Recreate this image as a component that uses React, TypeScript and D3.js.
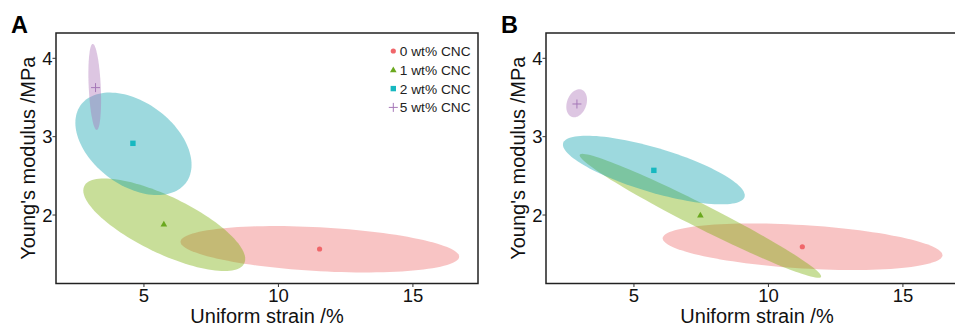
import * as d3 from 'd3'

// groups and colours
const groups = ['0 wt% CNC', '1 wt% CNC', '2 wt% CNC', '5 wt% CNC']
const pointColors = ['#F0666A', '#6AA81E', '#17B8C0', '#A678B8']
const fillColors = ['#EE6B6B', '#76AD00', '#0AA0AD', '#AA71B7']
const shapes = ['circle', 'triangle', 'square', 'plus']

// panel A: group means
const meanStrainA = [11.53, 5.74, 4.59, 3.2]
const meanModulusA = [1.566, 1.885, 2.915, 3.626]
// panel A: ellipses (centre, half ranges, correlation)
const ellStrainA = [11.54, 5.755, 4.61, 3.17]
const ellModulusA = [1.563, 1.876, 2.909, 3.635]
const ellStrainHalfA = [5.18, 3.01, 2.16, 0.236]
const ellModulusHalfA = [0.296, 0.591, 0.654, 0.549]
const ellCorrA = [-0.32, -0.74, -0.41, -0.31]

// panel B: group means
const meanStrainB = [11.26, 7.47, 5.74, 2.88]
const meanModulusB = [1.595, 2.0, 2.57, 3.417]
// panel B: ellipses
const ellStrainB = [11.27, 7.47, 5.74, 2.87]
const ellModulusB = [1.595, 1.99, 2.574, 3.426]
const ellStrainHalfB = [5.2, 4.49, 3.38, 0.385]
const ellModulusHalfB = [0.297, 0.791, 0.438, 0.179]
const ellCorrB = [-0.36, -0.977, -0.74, 0.25]

const xTicks = [5, 10, 15]
const yTicks = [2, 3, 4]
const xDomain: [number, number] = [1.73, 17.42]
const yDomain: [number, number] = [1.126, 4.323]

const FONT = '"Liberation Sans", Arial, Helvetica, sans-serif'
const W = 422
const H = 250.5

function Marker({ shape, cx, cy, color }: { shape: string; cx: number; cy: number; color: string }) {
  if (shape === 'circle') return <circle cx={cx} cy={cy} r={2.6} fill={color} />
  if (shape === 'triangle') {
    const s = 3.3
    return <path d={`M${cx},${cy - s}L${cx + s},${cy + s * 0.75}L${cx - s},${cy + s * 0.75}Z`} fill={color} />
  }
  if (shape === 'square') return <rect x={cx - 2.7} y={cy - 2.7} width={5.4} height={5.4} fill={color} />
  return (
    <path d={`M${cx - 4.5},${cy}H${cx + 4.5}M${cx},${cy - 4.5}V${cy + 4.5}`} stroke={color} strokeWidth={1} fill="none" />
  )
}

interface PanelProps {
  left: number
  top: number
  label: string
  meanStrain: number[]
  meanModulus: number[]
  ellStrain: number[]
  ellModulus: number[]
  ellStrainHalf: number[]
  ellModulusHalf: number[]
  ellCorr: number[]
  legend?: boolean
}

function Panel(p: PanelProps) {
  const x = d3.scaleLinear().domain(xDomain).range([0, W])
  const y = d3.scaleLinear().domain(yDomain).range([H, 0])
  const ts = d3.range(120).map(i => (i / 120) * Math.PI * 2)

  const ellipse = (i: number) => {
    const phi = Math.acos(p.ellCorr[i])
    return d3.line<number>()
      .x(t => x(p.ellStrain[i] + p.ellStrainHalf[i] * Math.cos(t)))
      .y(t => y(p.ellModulus[i] + p.ellModulusHalf[i] * Math.cos(t + phi)))
      .curve(d3.curveLinearClosed)(ts) as string
  }

  return (
    <g transform={`translate(${p.left},${p.top})`}>
      <text x={-45} y={0} fontFamily={FONT} fontWeight="bold" fontSize={23.5} fill="#000">{p.label}</text>
      {groups.map((g, i) => (
        <path key={g} d={ellipse(i)} fill={fillColors[i]} fillOpacity={0.4} />
      ))}
      {groups.map((g, i) => (
        <Marker key={g} shape={shapes[i]} cx={x(p.meanStrain[i])} cy={y(p.meanModulus[i])} color={pointColors[i]} />
      ))}
      <rect x={0} y={0} width={W} height={H} fill="none" stroke="#222" strokeWidth={1.5} />
      {xTicks.map(t => (
        <g key={t} transform={`translate(${x(t)},${H})`}>
          <line y1={0} y2={3.5} stroke="#333" />
          <text y={18.3} textAnchor="middle" fontFamily={FONT} fontSize={18.5} fill="#111">{t}</text>
        </g>
      ))}
      {yTicks.map(t => (
        <g key={t} transform={`translate(0,${y(t)})`}>
          <line x1={-3.5} x2={0} stroke="#333" />
          <text x={-3.5} dy="0.36em" textAnchor="end" fontFamily={FONT} fontSize={18.5} fill="#111">{t}</text>
        </g>
      ))}
      <text x={211} y={H + 39.5} textAnchor="middle" fontFamily={FONT} fontSize={20} fill="#111">Uniform strain /%</text>
      <text transform={`translate(-21.4,${H / 2}) rotate(-90)`} textAnchor="middle" fontFamily={FONT} fontSize={20} fill="#111">
        Young's modulus /MPa
      </text>
      {p.legend && groups.map((g, i) => (
        <g key={g} transform={`translate(337.3,${18 + i * 18.8})`}>
          <Marker shape={shapes[i]} cx={0} cy={0} color={pointColors[i]} />
          <text x={6.5} dy="0.36em" fontFamily={FONT} fontSize={13.7} fill="#222">{g}</text>
        </g>
      ))}
    </g>
  )
}

export default function App() {
  return (
    <svg width={955} height={327} style={{ position: 'absolute', left: 0, top: 0, background: '#fff' }}>
      <Panel left={56} top={33} label="A"
        meanStrain={meanStrainA} meanModulus={meanModulusA}
        ellStrain={ellStrainA} ellModulus={ellModulusA}
        ellStrainHalf={ellStrainHalfA} ellModulusHalf={ellModulusHalfA} ellCorr={ellCorrA} legend />
      <Panel left={546} top={33} label="B"
        meanStrain={meanStrainB} meanModulus={meanModulusB}
        ellStrain={ellStrainB} ellModulus={ellModulusB}
        ellStrainHalf={ellStrainHalfB} ellModulusHalf={ellModulusHalfB} ellCorr={ellCorrB} />
    </svg>
  )
}
